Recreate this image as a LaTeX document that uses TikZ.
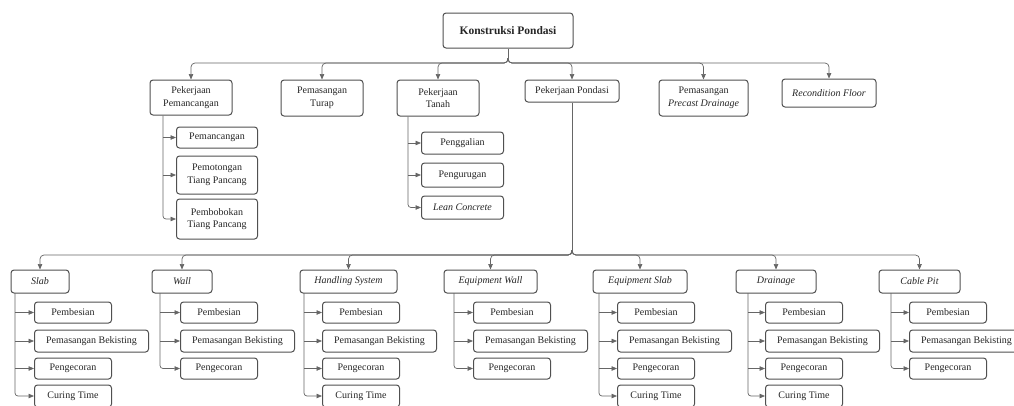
\documentclass[tikz,border=0pt]{standalone}
\usepackage{fontspec}
\setmainfont{Liberation Serif}
\newfontfamily\boxfont{Liberation Serif}
\usetikzlibrary{arrows.meta}
\definecolor{ink}{HTML}{262626}
\definecolor{edgec}{HTML}{505050}
\definecolor{wirec}{HTML}{666666}
\begin{document}
\begin{tikzpicture}[x=1pt,y=-1pt,
  box/.style={draw=edgec, line width=1pt, rounded corners=3pt, fill=white, text=ink, align=center, inner sep=0pt, font=\boxfont\fontsize{10}{12.5}\selectfont},
  itbox/.style={box, font=\boxfont\fontsize{10}{12.5}\selectfont\itshape},
  wire/.style={draw=wirec, line width=0.7pt, -{Triangle[length=5.5pt,width=4.5pt]}},
  trunk/.style={draw=wirec, line width=0.7pt},
]
\useasboundingbox[fill=white] (0,0) rectangle (1014,405);

% root
\node[box, minimum width=130pt, minimum height=35pt, font=\boxfont\fontsize{11.5}{14}\selectfont\bfseries] (root) at (508,30.5) {Konstruksi Pondasi};
\coordinate (bus1) at (0,63);
\coordinate (b1) at ([yshift=5pt]root.south |- bus1);
\draw[trunk] (root.south) -- (b1);

% level 1
\node[box, minimum width=82pt, minimum height=35pt] (pp) at (191,97.5) {Pekerjaan\\Pemancangan};
\node[box, minimum width=82pt, minimum height=36pt] (pt) at (322,98) {Pemasangan\\Turap};
\node[box, minimum width=82pt, minimum height=36pt] (ptn) at (438,98) {Pekerjaan\\Tanah};
\node[box, minimum width=94pt, minimum height=22pt] (pd) at (572,91) {Pekerjaan Pondasi};
\node[box, minimum width=89pt, minimum height=36pt] (ppd) at (703.5,98) {Pemasangan\\\textit{Precast Drainage}};
\node[itbox, minimum width=94pt, minimum height=28pt] (rf) at (829,93) {Recondition Floor};

\foreach \c in {pp,pt,ptn,pd,ppd,rf}
  \draw[wire, rounded corners=4pt] (b1) -- (root.south |- bus1) -| (\c.north);

% children of Pekerjaan Pemancangan
\node[box, anchor=west, minimum width=81pt, minimum height=21pt] (pp1) at (176,137.5) {Pemancangan};
\node[box, anchor=west, minimum width=81pt, minimum height=38pt] (pp2) at (176,175) {Pemotongan\\Tiang Pancang};
\node[box, anchor=west, minimum width=81pt, minimum height=40pt] (pp3) at (176,219) {Pembobokan\\Tiang Pancang};
\coordinate (ppt) at (163,115);
\draw[wire] (ppt |- pp1.west) -- (pp1.west);
\draw[wire] (ppt |- pp2.west) -- (pp2.west);
\draw[wire, rounded corners=3pt] (ppt |- pp.south) |- (pp3.west);

% children of Pekerjaan Tanah
\node[box, anchor=west, minimum width=82pt, minimum height=22pt] (pt1) at (421,143) {Penggalian};
\node[box, anchor=west, minimum width=82pt, minimum height=24pt] (pt2) at (421,175) {Pengurugan};
\node[itbox, anchor=west, minimum width=82pt, minimum height=23pt] (pt3) at (421,207.5) {Lean Concrete};
\coordinate (ptt) at (408,116);
\draw[wire] (ptt |- pt1.west) -- (pt1.west);
\draw[wire] (ptt |- pt2.west) -- (pt2.west);
\draw[wire, rounded corners=3pt] (ptt |- ptn.south) |- (pt3.west);

% level 2
\coordinate (bus2) at (0,255);
\coordinate (b2) at ([yshift=5pt]pd.south |- bus2);
\draw[trunk] (pd.south) -- (b2);
\foreach \p/\cx/\w/\lab/\tx/\cl/\n in {slab/40/58/Slab/15/34/4, wall/182/60/Wall/160/180/3, hs/348.5/97/Handling System/304/322/4, ew/490.5/93/Equipment Wall/454/473/3, es/640/94/Equipment Slab/599/617/4, dr/776/80/Drainage/748/765/4, cp/919.5/81/Cable Pit/891/909/3} {
  \node[itbox, minimum width=\w pt, minimum height=23pt] (\p) at (\cx,281.5) {\lab};
  \draw[wire, rounded corners=4pt] (b2) -- (pd.south |- bus2) -| (\p.north);
  \node[box, anchor=west, minimum width=77pt, minimum height=21pt] (\p1) at (\cl,312.5) {Pembesian};
  \node[box, anchor=west, minimum width=114pt, minimum height=22pt] (\p2) at (\cl,341) {Pemasangan Bekisting};
  \node[box, anchor=west, minimum width=77pt, minimum height=21pt] (\p3) at (\cl,368.5) {Pengecoran};
  \coordinate (\p-t) at (\tx,293);
  \draw[wire] (\p-t |- \p1.west) -- (\p1.west);
  \draw[wire] (\p-t |- \p2.west) -- (\p2.west);
  \ifnum\n=4
    \node[box, anchor=west, minimum width=77pt, minimum height=22pt] (\p4) at (\cl,396) {Curing Time};
    \draw[wire] (\p-t |- \p3.west) -- (\p3.west);
    \draw[wire, rounded corners=3pt] (\p-t) |- (\p4.west);
  \else
    \draw[wire, rounded corners=3pt] (\p-t) |- (\p3.west);
  \fi
}
\end{tikzpicture}
\end{document}
